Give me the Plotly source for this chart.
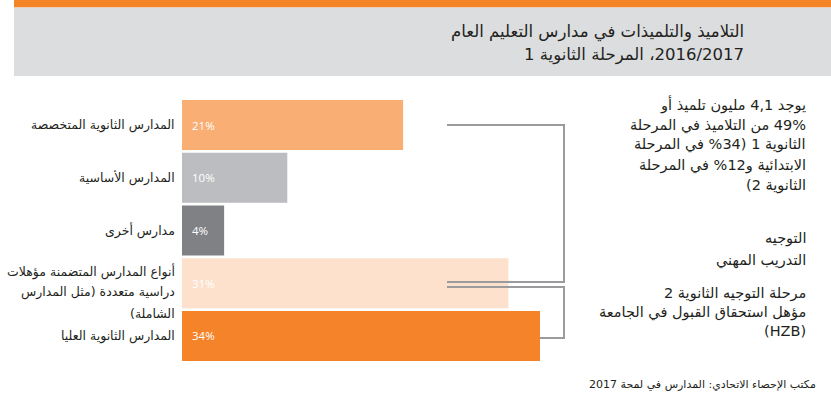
import plotly.graph_objects as go

# School types, share of pupils in secondary level 1 (percent)
categories = [
    "المدارس الثانوية المتخصصة",
    "المدارس الأساسية",
    "مدارس أخرى",
    "أنواع المدارس المتضمنة مؤهلات<br>دراسية متعددة (مثل المدارس<br>الشاملة)",
    "المدارس الثانوية العليا",
]
shares = [21, 10, 4, 31, 34]
bar_colors = ["#F9AE74", "#BCBDC0", "#808184", "#FDE1CC", "#F5832A"]

title_lines = [
    "التلاميذ والتلميذات في مدارس التعليم العام",
    "2016/2017، المرحلة الثانوية 1",
]
note_top = [
    "يوجد 4,1 مليون تلميذ أو",
    "49% من التلاميذ في المرحلة",
    "الثانوية 1 (34% في المرحلة",
    "الابتدائية و12% في المرحلة",
    "الثانوية 2)",
]
note_mid = ["التوجيه", "التدريب المهني"]
note_low = ["مرحلة التوجيه الثانوية 2", "مؤهل استحقاق القبول في الجامعة", "(HZB)"]
source = "مكتب الإحصاء الاتحادي: المدارس في لمحة 2017"

W, H = 831, 395
AR_FONT = "DejaVu Sans"
LAT_FONT = "Open Sans"
INK = "#231F20"


def px(x):
    return x / W


def py(y):
    return 1 - y / H


def rtl(s):
    # right-to-left embedding so mixed Arabic/number runs order correctly
    return "\u202b" + s + "\u202c"


fig = go.Figure(
    go.Bar(
        x=shares,
        y=categories,
        orientation="h",
        marker=dict(color=bar_colors, line=dict(width=0)),
        hoverinfo="skip",
    )
)

annotations = []

# value labels inside the bars
for cat, v in zip(categories, shares):
    annotations.append(dict(
        x=0, y=cat, xref="x", yref="y", text=f"{v}%", showarrow=False,
        xanchor="left", yanchor="middle", xshift=8,
        font=dict(family=LAT_FONT, size=11.5, color="white"),
    ))

# category labels left of the bars, one annotation per text line
LABEL_STEP = 21
for cat in categories:
    parts = cat.split("<br>")
    n = len(parts)
    base = -9 if n > 1 else 0
    for i, part in enumerate(parts):
        annotations.append(dict(
            x=px(177), y=cat, xref="paper", yref="y", text=rtl(part),
            showarrow=False, xanchor="right", yanchor="middle",
            yshift=base - (i - (n - 1) / 2) * LABEL_STEP,
            font=dict(family=AR_FONT, size=12.5, color=INK),
        ))

# title in the grey band
for i, line in enumerate(title_lines):
    annotations.append(dict(
        x=px(746), y=py(32 + 23 * i), xref="paper", yref="paper", text=rtl(line),
        showarrow=False, xanchor="right", yanchor="middle",
        font=dict(family=AR_FONT, size=16.5, color=INK),
    ))


def note_block(lines, top, step):
    for i, line in enumerate(lines):
        annotations.append(dict(
            x=px(808), y=py(top + step * i), xref="paper", yref="paper",
            text=rtl(line), showarrow=False, xanchor="right", yanchor="middle",
            font=dict(family=AR_FONT, size=14.5, color=INK),
        ))


note_block(note_top, 105, 20)
note_block(note_mid, 238, 22)
note_block(note_low, 293, 19)

annotations.append(dict(
    x=px(818), y=py(384), xref="paper", yref="paper", text=rtl(source),
    showarrow=False, xanchor="right", yanchor="middle",
    font=dict(family=AR_FONT, size=11, color=INK),
))

line_style = dict(color="#9B9B9D", width=2)
shapes = [
    # header bands
    dict(type="rect", xref="paper", yref="paper", x0=px(14), x1=1,
         y0=py(7.5), y1=1, fillcolor="#F58426", line=dict(width=0), layer="below"),
    dict(type="rect", xref="paper", yref="paper", x0=px(14), x1=1,
         y0=py(76), y1=py(7.5), fillcolor="#DCDDDE", line=dict(width=0), layer="below"),
    # bracket spanning the first four school types
    dict(type="path", xref="paper", yref="paper",
         path=f"M{px(447)},{py(125)} H{px(564)} V{py(282)} H{px(447)}",
         line=line_style),
    # bracket for upper secondary schools
    dict(type="path", xref="paper", yref="paper",
         path=f"M{px(447)},{py(287)} H{px(564)} V{py(338)} H{px(540)}",
         line=line_style),
]

fig.update_layout(
    width=W, height=H,
    margin=dict(l=0, r=0, t=0, b=0),
    paper_bgcolor="white", plot_bgcolor="white",
    showlegend=False,
    bargap=0.05,
    xaxis=dict(domain=[px(182), px(540)], range=[0, max(shares)],
               visible=False, fixedrange=True),
    yaxis=dict(domain=[py(362.3), py(98.7)], autorange="reversed",
               visible=False, fixedrange=True),
    annotations=annotations,
    shapes=shapes,
)

fig.write_html("out.html")
